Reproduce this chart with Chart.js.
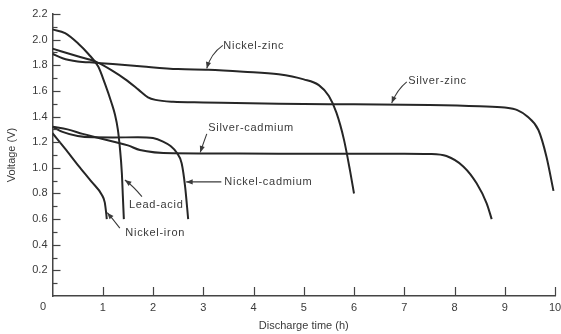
<!DOCTYPE html>
<html>
<head>
<meta charset="utf-8">
<script src="https://cdn.jsdelivr.net/npm/chart.js@4/dist/chart.umd.min.js"></script>
<style>
    html, body { margin: 0; padding: 0; background: #fff; }
    #wrap { width: 561px; height: 334px; }
</style>
</head>
<body>
<div id="wrap"><canvas id="dischargeChart" width="561" height="334"></canvas></div>
<script>
// Axis ticks
const hourTicks = [0, 1, 2, 3, 4, 5, 6, 7, 8, 9, 10];
const voltTicks = [0.2, 0.4, 0.6, 0.8, 1.0, 1.2, 1.4, 1.6, 1.8, 2.0, 2.2];

// Discharge curves (hours, volts)
const nickelZincHours = [0, 0.2, 0.5, 0.85, 1.2, 1.8, 2.5, 3.1, 3.8, 4.5, 5.0, 5.3, 5.5, 5.65, 5.8, 5.92, 6.0];
const nickelZincVolts = [1.89, 1.855, 1.83, 1.82, 1.81, 1.79, 1.77, 1.765, 1.75, 1.73, 1.69, 1.645, 1.56, 1.43, 1.22, 0.98, 0.80];

const silverZincHours = [0, 0.5, 0.85, 1.18, 1.45, 1.71, 1.9, 2.05, 2.4, 3.0, 4.5, 6.0, 7.5, 8.5, 9.0, 9.25, 9.45, 9.67, 9.83, 9.97];
const silverZincVolts = [1.93, 1.87, 1.83, 1.76, 1.69, 1.61, 1.55, 1.53, 1.515, 1.51, 1.50, 1.495, 1.49, 1.48, 1.47, 1.45, 1.40, 1.295, 1.087, 0.82];

const leadAcidHours = [0, 0.25, 0.51, 0.71, 0.91, 1.04, 1.18, 1.24, 1.30, 1.34, 1.38, 1.40, 1.42];
const leadAcidVolts = [2.08, 2.05, 1.97, 1.89, 1.79, 1.66, 1.50, 1.42, 1.30, 1.16, 0.96, 0.78, 0.60];

const nickelIronHours = [0, 0.25, 0.51, 0.78, 0.98, 1.04, 1.07, 1.08];
const nickelIronVolts = [1.27, 1.15, 1.02, 0.89, 0.79, 0.73, 0.64, 0.60];

const nickelCadmiumHours = [0, 0.2, 0.5, 0.8, 1.2, 1.7, 2.0, 2.2, 2.35, 2.47, 2.57, 2.64, 2.70];
const nickelCadmiumVolts = [1.32, 1.28, 1.248, 1.238, 1.237, 1.238, 1.232, 1.205, 1.17, 1.12, 1.035, 0.85, 0.60];

const silverCadmiumHours = [0, 0.3, 0.6, 0.9, 1.2, 1.5, 1.74, 2.4, 3.0, 4.5, 6.0, 7.0, 7.5, 7.84, 8.18, 8.44, 8.64, 8.74];
const silverCadmiumVolts = [1.32, 1.30, 1.265, 1.235, 1.205, 1.175, 1.139, 1.113, 1.112, 1.11, 1.11, 1.11, 1.108, 1.092, 1.009, 0.879, 0.723, 0.60];

// Curve labels with their leader arrows (data coordinates)
const curveLabels = [
    { text: "Nickel-zinc",    at: [3.40, 1.95],  from: [3.39, 1.955], ctrl: [3.15, 1.89], tip: [3.07, 1.775] },
    { text: "Silver-zinc",    at: [7.08, 1.68],  from: [7.05, 1.67],  ctrl: [6.86, 1.61], tip: [6.75, 1.505] },
    { text: "Silver-cadmium", at: [3.10, 1.31],  from: [3.07, 1.265], ctrl: [3.00, 1.19], tip: [2.94, 1.12] },
    { text: "Nickel-cadmium", at: [3.42, 0.89],  from: [3.36, 0.89],  ctrl: [3.00, 0.89], tip: [2.66, 0.89] },
    { text: "Lead-acid",      at: [1.52, 0.71],  from: [1.78, 0.775], ctrl: [1.60, 0.86], tip: [1.44, 0.905] },
    { text: "Nickel-iron",    at: [1.45, 0.49],  from: [1.34, 0.53],  ctrl: [1.20, 0.60], tip: [1.09, 0.65] }
];

const INK = "#262626";
const TEXT = "#3a3a3a";

function toPoints(hours, volts) {
    return hours.map((h, i) => ({ x: h, y: volts[i] }));
}

function curve(label, hours, volts) {
    return {
        label: label,
        data: toPoints(hours, volts),
        borderColor: INK,
        borderWidth: 2,
        pointRadius: 0,
        fill: false,
        cubicInterpolationMode: "monotone"
    };
}

// Inward tick marks, the offset origin label and the curve labels
const figureExtras = {
    id: "figureExtras",
    afterDatasetsDraw(chart) {
        const ctx = chart.ctx;
        const xs = chart.scales.x;
        const ys = chart.scales.y;
        const left = chart.chartArea.left;
        const bottom = chart.chartArea.bottom;

        ctx.save();
        ctx.strokeStyle = "#444";
        ctx.lineWidth = 1.2;

        // y ticks every 0.1 V, longer on labelled values
        for (let i = 1; i <= 22; i++) {
            const py = Math.round(ys.getPixelForValue(i / 10)) + 0.5;
            const len = i % 2 === 0 ? 8 : 5;
            ctx.beginPath();
            ctx.moveTo(left, py);
            ctx.lineTo(left + len, py);
            ctx.stroke();
        }
        // x ticks pointing up
        hourTicks.slice(1).forEach(h => {
            const px = Math.round(xs.getPixelForValue(h)) + 0.5;
            ctx.beginPath();
            ctx.moveTo(px, bottom);
            ctx.lineTo(px, bottom - 9);
            ctx.stroke();
        });

        ctx.letterSpacing = "0.7px";
        ctx.font = "11px 'Liberation Sans', Arial, sans-serif";
        ctx.fillStyle = TEXT;
        ctx.textBaseline = "middle";
        ctx.textAlign = "center";
        ctx.fillText("0", xs.getPixelForValue(0) - 9, bottom + 10.5);

        ctx.textAlign = "left";
        curveLabels.forEach(lab => {
            ctx.fillText(lab.text, xs.getPixelForValue(lab.at[0]), ys.getPixelForValue(lab.at[1]));

            const sx = xs.getPixelForValue(lab.from[0]), sy = ys.getPixelForValue(lab.from[1]);
            const cx = xs.getPixelForValue(lab.ctrl[0]), cy = ys.getPixelForValue(lab.ctrl[1]);
            const tx = xs.getPixelForValue(lab.tip[0]), ty = ys.getPixelForValue(lab.tip[1]);
            ctx.strokeStyle = TEXT;
            ctx.lineWidth = 1.1;
            ctx.beginPath();
            ctx.moveTo(sx, sy);
            ctx.quadraticCurveTo(cx, cy, tx, ty);
            ctx.stroke();

            // arrow head
            const ang = Math.atan2(ty - cy, tx - cx);
            const hl = 6.5, hw = 2.6;
            ctx.beginPath();
            ctx.moveTo(tx, ty);
            ctx.lineTo(tx - hl * Math.cos(ang) + hw * Math.sin(ang), ty - hl * Math.sin(ang) - hw * Math.cos(ang));
            ctx.lineTo(tx - hl * Math.cos(ang) - hw * Math.sin(ang), ty - hl * Math.sin(ang) + hw * Math.cos(ang));
            ctx.closePath();
            ctx.fillStyle = TEXT;
            ctx.fill();
        });
        ctx.restore();
    }
};

Chart.defaults.font.family = "'Liberation Sans', Arial, sans-serif";
Chart.defaults.font.size = 11;
Chart.defaults.color = TEXT;

const ctx = document.getElementById("dischargeChart");
new Chart(ctx, {
    type: "line",
    data: {
        datasets: [
            curve("Nickel-zinc", nickelZincHours, nickelZincVolts),
            curve("Silver-zinc", silverZincHours, silverZincVolts),
            curve("Lead-acid", leadAcidHours, leadAcidVolts),
            curve("Nickel-iron", nickelIronHours, nickelIronVolts),
            curve("Nickel-cadmium", nickelCadmiumHours, nickelCadmiumVolts),
            curve("Silver-cadmium", silverCadmiumHours, silverCadmiumVolts)
        ]
    },
    options: {
        responsive: false,
        animation: false,
        devicePixelRatio: 1,
        layout: { padding: { left: 0, right: 0, top: 14, bottom: 0 } },
        plugins: {
            legend: { display: false },
            tooltip: { enabled: false }
        },
        scales: {
            x: {
                type: "linear",
                min: 0,
                max: 10,
                afterBuildTicks: scale => { scale.ticks = hourTicks.map(v => ({ value: v })); },
                afterFit: scale => { scale.height = 38; scale.paddingRight = 6; },
                ticks: {
                    padding: 5,
                    callback: v => (v === 0 ? "" : String(v))
                },
                grid: { display: false, drawTicks: false },
                border: { display: true, color: "#444", width: 1.5 },
                title: {
                    display: true,
                    text: "Discharge time (h)",
                    padding: { top: 0, bottom: 1 },
                    font: { size: 11 }
                }
            },
            y: {
                min: 0,
                max: 2.2,
                afterBuildTicks: scale => { scale.ticks = voltTicks.map(v => ({ value: v })); },
                afterFit: scale => { scale.width = 52.5; },
                ticks: {
                    padding: 5,
                    callback: v => v.toFixed(1)
                },
                grid: { display: false, drawTicks: false },
                border: { display: true, color: "#444", width: 1.5 },
                title: {
                    display: true,
                    text: "Voltage (V)",
                    padding: { top: 5, bottom: 0 },
                    font: { size: 11 }
                }
            }
        }
    },
    plugins: [figureExtras]
});
</script>
</body>
</html>
